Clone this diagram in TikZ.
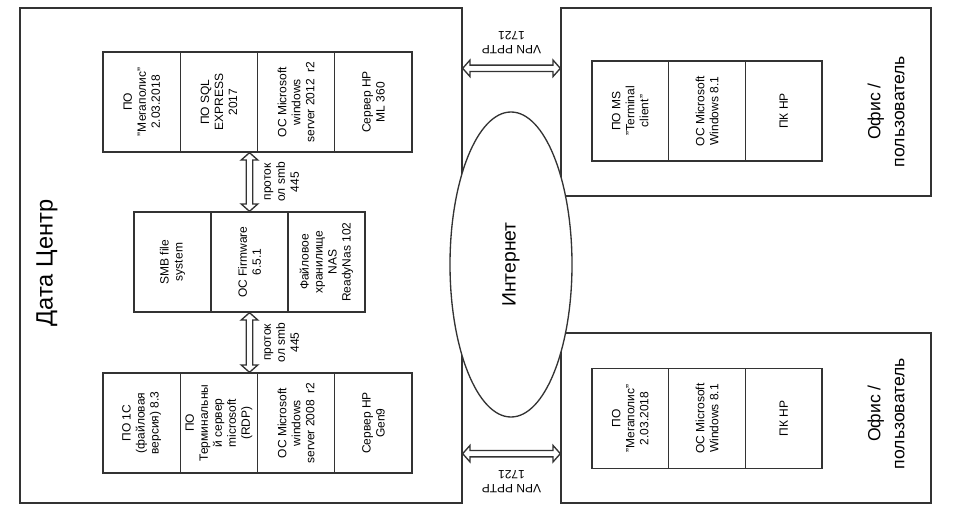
\documentclass[tikz,border=0pt]{standalone}
\usepackage{fontspec}
\setmainfont{Liberation Sans}
\usetikzlibrary{calc,positioning,shapes.geometric}

\begin{document}
\begin{tikzpicture}
% Network layout: data centre, internet, two offices
\def\px{0.75pt}
\providecommand{\netLineColor}{black!80}
\providecommand{\netLineWidth}{1pt}
\providecommand{\arrHead}{5.5pt}
\providecommand{\arrHeadHalf}{6.2pt}
\providecommand{\arrShaftHalf}{2.4pt}
\begin{scope}[x=\px, y=-\px, line join=miter,
  frame/.style={draw=\netLineColor, line width=\netLineWidth},
  cell/.style={draw=\netLineColor, line width=\netLineWidth, rotate=90, inner sep=1pt,
    minimum width=100*\px, minimum height=77.25*\px, align=center,
    font=\fontsize{9}{10.5}\selectfont},
  rotlab/.style={rotate=90, align=center, inner sep=2pt},
  vpnlab/.style={rotate=180, align=center, inner sep=1pt, font=\fontsize{9}{10.5}\selectfont},
  cloudnet/.style={ellipse, draw=\netLineColor, line width=\netLineWidth, fill=white,
    rotate=90, inner sep=0pt, font=\fontsize{14.5}{17}\selectfont},
  dblarrow/.style={draw=\netLineColor, line width=\netLineWidth, fill=white, to path={
    (\tikztostart)
    -- ($(\tikztostart)!\arrHead!(\tikztotarget)!\arrHeadHalf!90:(\tikztotarget)$)
    -- ($(\tikztostart)!\arrHead!(\tikztotarget)!\arrShaftHalf!90:(\tikztotarget)$)
    -- ($(\tikztotarget)!\arrHead!(\tikztostart)!\arrShaftHalf!-90:(\tikztostart)$)
    -- ($(\tikztotarget)!\arrHead!(\tikztostart)!\arrHeadHalf!-90:(\tikztostart)$)
    -- (\tikztotarget)
    -- ($(\tikztotarget)!\arrHead!(\tikztostart)!\arrHeadHalf!90:(\tikztostart)$)
    -- ($(\tikztotarget)!\arrHead!(\tikztostart)!\arrShaftHalf!90:(\tikztostart)$)
    -- ($(\tikztostart)!\arrHead!(\tikztotarget)!\arrShaftHalf!-90:(\tikztotarget)$)
    -- ($(\tikztostart)!\arrHead!(\tikztotarget)!\arrHeadHalf!-90:(\tikztotarget)$)
    -- cycle}}]
  \useasboundingbox (0,0) rectangle (956,528);
  % Outer frames
  \node[frame, minimum width=442*\px, minimum height=495*\px] (dc) at (241,255.5) {};
  \node[frame, minimum width=370*\px, minimum height=188*\px] (ofA) at (746,102) {};
  \node[frame, minimum width=370*\px, minimum height=170*\px] (ofB) at (746,418) {};
  % Data centre rows
  \foreach [count=\i] \txt in {{ПО\\"Мегаполис"\\2.03.2018}, {ПО SQL\\EXPRESS\\2017},
      {ОС Microsoft\\windows\\server 2012\ \ r2}, {Сервер HP\\ML 360}}
    \node[cell] (srvA\i) at ({103+77.25*(\i-0.5)},102) {\txt};
  \foreach [count=\i] \txt in {{SMB file\\system}, {ОС Firmware\\6.5.1},
      {Файловое\\хранилище\\NAS\\ReadyNas 102}}
    \node[cell, minimum height=77*\px] (nas\i) at ({134+77*(\i-0.5)},262) {\txt};
  \foreach [count=\i] \txt in {{ПО 1С\\(файловая\\версия) 8.3},
      {ПО\\Терминальны\\й сервер\\microsoft\\(RDP)},
      {ОС Microsoft\\windows\\server 2008\ \ r2}, {Сервер HP\\Gen9}}
    \node[cell] (srvB\i) at ({103+77.25*(\i-0.5)},423) {\txt};
  % Office rows
  \foreach [count=\i] \txt in {{ПО MS\\"Terminal\\client"}, {ОС Microsoft\\Windows 8.1}, {ПК HP}}
    \node[cell, minimum height=76.67*\px] (ofAc\i) at ({592+76.67*(\i-0.5)},111) {\txt};
  \foreach [count=\i] \txt in {{ПО\\"Мегаполис"\\2.03.2018}, {ОС Microsoft\\Windows 8.1}, {ПК HP}}
    \node[cell, minimum height=76.67*\px] (ofBc\i) at ({592+76.67*(\i-0.5)},418.5) {\txt};
  % smb links
  \coordinate (smbAtop) at (nas2.east |- srvA2.west);
  \coordinate (smbBbot) at (nas2.west |- srvB2.east);
  \draw[dblarrow] (smbAtop) to (nas2.east);
  \draw[dblarrow] (nas2.west) to (smbBbot);
  \coordinate (smbA) at ($(smbAtop)!0.5!(nas2.east)$);
  \coordinate (smbB) at ($(nas2.west)!0.5!(smbBbot)$);
  \node[rotlab, anchor=north, font=\fontsize{9}{10.5}\selectfont] (smbAlab) at ($(smbA)+(12,0)$) {проток\\ол smb\\445};
  \node[rotlab, anchor=north, font=\fontsize{9}{10.5}\selectfont] (smbBlab) at ($(smbB)+(12,0)$) {проток\\ол smb\\445};
  % VPN links
  \coordinate (vpnAl) at ($(dc.north east)+(0,61)$);
  \coordinate (vpnAr) at (ofA.west |- vpnAl);
  \coordinate (vpnBl) at ($(dc.south east)+(0,-50)$);
  \coordinate (vpnBr) at (ofB.west |- vpnBl);
  \draw[dblarrow] (vpnAl) to (vpnAr);
  \draw[dblarrow] (vpnBl) to (vpnBr);
  \node[vpnlab] (vpnAlab) at ($(vpnAl)!0.5!(vpnAr)+(0,-26)$) {VPN PPTP\\1721};
  \node[vpnlab] (vpnBlab) at ($(vpnBl)!0.5!(vpnBr)+(0,28)$) {VPN PPTP\\1721};
  % Internet
  \node[cloudnet, minimum width=305*\px, minimum height=122*\px] (inet) at (511,264.5) {Интернет};
  % Frame titles
  \node[rotlab, font=\fontsize{17.7}{21}\selectfont] (dclab) at (47,263) {Дата Центр};
  \node[rotlab, font=\fontsize{13.2}{18}\selectfont] (ofAlab) at (886,111.5) {Офис /\\пользователь};
  \node[rotlab, font=\fontsize{13.2}{18}\selectfont] (ofBlab) at (886,413.5) {Офис /\\пользователь};
\end{scope}
\end{tikzpicture}
\end{document}
